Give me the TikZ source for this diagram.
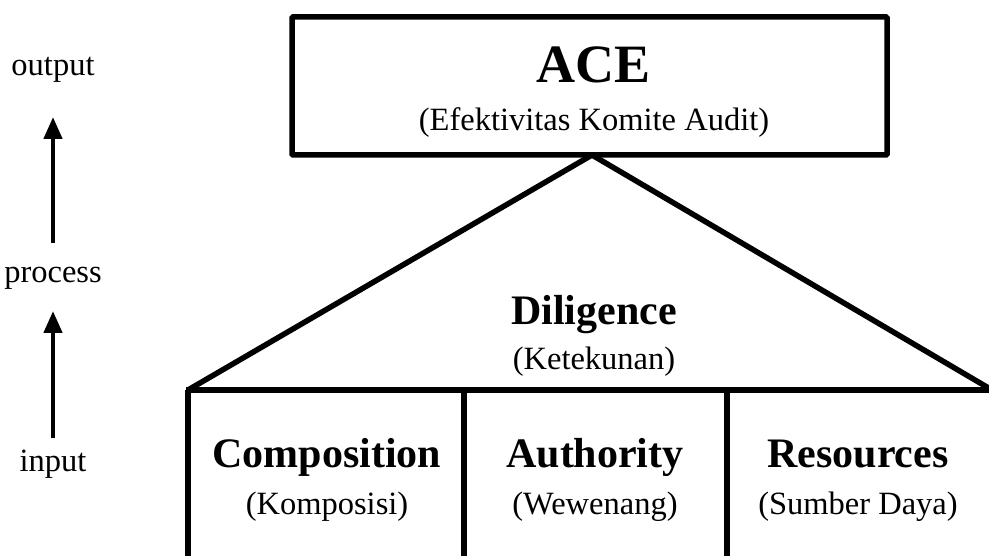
\documentclass[tikz,border=0pt]{standalone}
\usepackage{fontspec}
\setmainfont{Liberation Serif}
\usetikzlibrary{arrows.meta}
\begin{document}
\begin{tikzpicture}[x=1pt,y=-1pt,
  thick line/.style={line width=5.5pt, line join=miter},
  big/.style={font=\fontsize{54}{60}\selectfont\bfseries, anchor=base},
  head/.style={font=\fontsize{42}{48}\selectfont\bfseries, anchor=base},
  sub/.style={font=\fontsize{32.5}{38}\selectfont, anchor=base},
  side/.style={font=\fontsize{32.5}{38}\selectfont, anchor=base},
  uparrow/.style={line width=4.5pt, -{Triangle[length=22pt,width=18pt]}}]
\useasboundingbox (0,0) rectangle (989,556);
% top box
\node[draw, line width=5.5pt, rounded corners=1pt, minimum width=595pt, minimum height=138pt, inner sep=0pt] (ace) at (589.5,86) {};
\node[big] (acet) at (594,83) {ACE};
\node[sub] (acesub) at (594,131) {(Efektivitas Komite Audit)};
% triangle
\coordinate (apex) at (592,155);
\coordinate (bl) at (188,390);
\coordinate (br) at (992,390);
\draw[thick line] (bl) -- (apex) -- (br);
\draw[thick line] ([xshift=-2pt]bl) -- (br);
\node[head] (dil) at (594,325) {Diligence};
\node[sub] (dilsub) at (594,370) {(Ketekunan)};
% pillars
\coordinate (p1t) at (188,390); \coordinate (p1b) at (188,560);
\coordinate (p2t) at (464,390); \coordinate (p2b) at (464,560);
\coordinate (p3t) at (727,390); \coordinate (p3b) at (727,560);
\draw[thick line] (p1t) -- (p1b);
\draw[thick line] (p2t) -- (p2b);
\draw[thick line] (p3t) -- (p3b);
\node[head] (comp) at (327,467) {Composition};
\node[sub] (compsub) at (327,514) {(Komposisi)};
\node[head] (auth) at (595,467) {Authority};
\node[sub] (authsub) at (595,514) {(Wewenang)};
\node[head] (res) at (858,467) {Resources};
\node[sub] (ressub) at (858,514) {(Sumber Daya)};
% side labels
\node[side] (out) at (53,76) {output};
\node[side] (proc) at (53,283) {process};
\node[side] (inp) at (53,471) {input};
\coordinate (a1s) at (53,243); \coordinate (a1e) at (53,117);
\coordinate (a2s) at (53,438); \coordinate (a2e) at (53,311);
\draw[uparrow] (a1s) -- (a1e);
\draw[uparrow] (a2s) -- (a2e);
\end{tikzpicture}
\end{document}
